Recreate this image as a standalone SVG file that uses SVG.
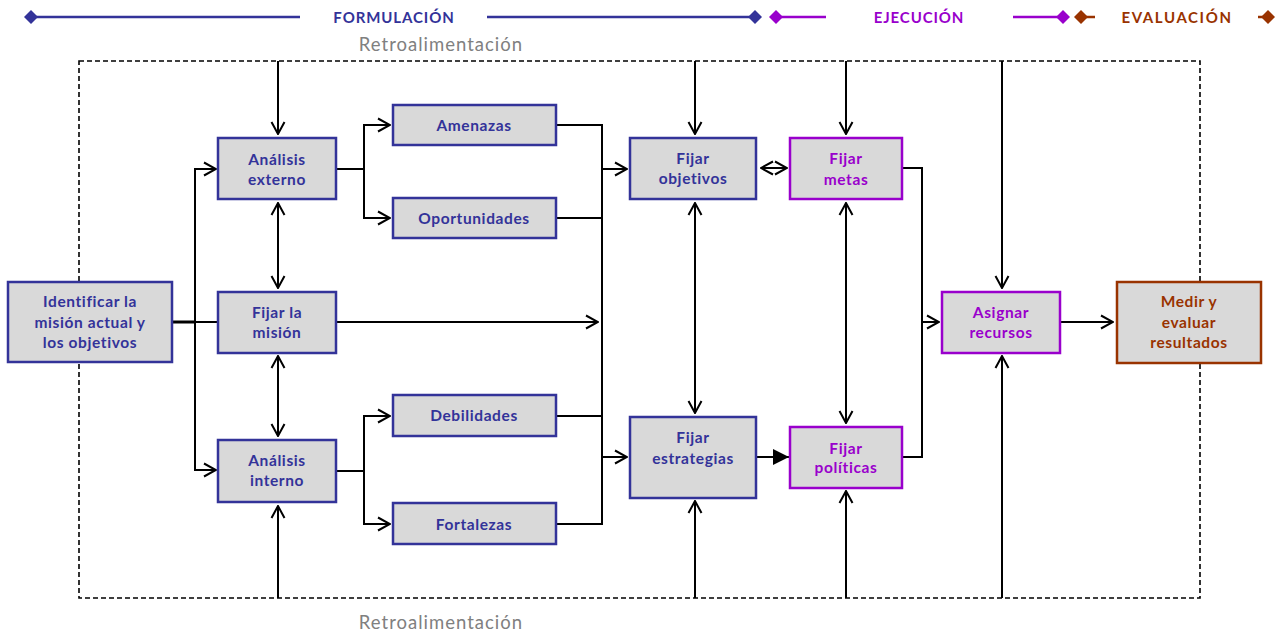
<svg xmlns="http://www.w3.org/2000/svg" width="1281" height="633" viewBox="0 0 1281 633">
  <style>
    .box { fill: #d9d9d9; stroke-width: 2.5; }
    .blue { stroke: #333399; }
    .purple { stroke: #9900cc; }
    .brown { stroke: #993300; }
    .lbl { font-family: Lato, "Liberation Sans", sans-serif; font-weight: bold; font-size: 15.5px; letter-spacing: 0.6px; text-anchor: middle; }
    .tb { fill: #333399; }
    .tp { fill: #9900cc; }
    .tr { fill: #993300; }
    .head { font-family: Lato, "Liberation Sans", sans-serif; font-weight: bold; font-size: 15px; letter-spacing: 0.9px; text-anchor: middle; }
    .fb { font-family: Lato, "Liberation Sans", sans-serif; font-size: 18.5px; letter-spacing: 1px; fill: #808080; text-anchor: middle; }
    .ln { fill: none; stroke: #000; stroke-width: 2; }
    .arr { marker-end: url(#open); }
    .bi { marker-start: url(#open); marker-end: url(#open); }
  </style>
  <defs>
    <marker id="open" viewBox="0 0 14 16" refX="13" refY="8" markerWidth="14" markerHeight="16" markerUnits="userSpaceOnUse" orient="auto-start-reverse">
      <path d="M1,1.5 L13,8 L1,14.5" fill="none" stroke="#000" stroke-width="2"/>
    </marker>
    <marker id="solid" viewBox="0 0 16 16" refX="16" refY="8" markerWidth="16" markerHeight="16" markerUnits="userSpaceOnUse" orient="auto">
      <path d="M0,0 L16,8 L0,16 Z" fill="#000"/>
    </marker>
  </defs>

  <!-- phase header -->
  <g id="header">
    <line x1="31" y1="17" x2="300" y2="17" stroke="#333399" stroke-width="2.5"/>
    <path d="M31,10 L38,17 L31,24 L24,17 Z" fill="#333399"/>
    <text class="head tb" x="394" y="23">FORMULACIÓN</text>
    <line x1="487" y1="17" x2="755" y2="17" stroke="#333399" stroke-width="2.5"/>
    <path d="M755,10 L762,17 L755,24 L748,17 Z" fill="#333399"/>
    <path d="M776,10 L783,17 L776,24 L769,17 Z" fill="#9900cc"/>
    <line x1="776" y1="17" x2="826" y2="17" stroke="#9900cc" stroke-width="2.5"/>
    <text class="head tp" x="919" y="23">EJECUCIÓN</text>
    <line x1="1013" y1="17" x2="1063" y2="17" stroke="#9900cc" stroke-width="2.5"/>
    <path d="M1063,10 L1070,17 L1063,24 L1056,17 Z" fill="#9900cc"/>
    <path d="M1081,10 L1088,17 L1081,24 L1074,17 Z" fill="#993300"/>
    <line x1="1081" y1="17" x2="1095" y2="17" stroke="#993300" stroke-width="2.5"/>
    <text class="head tr" x="1177" y="23" style="letter-spacing:1.6px">EVALUACIÓN</text>
    <line x1="1258" y1="17" x2="1268" y2="17" stroke="#993300" stroke-width="2.5"/>
    <path d="M1268,10 L1275,17 L1268,24 L1261,17 Z" fill="#993300"/>
  </g>

  <!-- feedback frame -->
  <g id="feedback">
    <rect x="79" y="61" width="1121" height="537" fill="none" stroke="#000" stroke-width="1.6" stroke-dasharray="5,3"/>
    <text class="fb" x="441" y="51">Retroalimentación</text>
    <text class="fb" x="441" y="629">Retroalimentación</text>
  </g>

  <!-- connectors -->
  <g id="connectors">
    <!-- mission fan-out -->
    <line x1="172" y1="322" x2="196" y2="322" stroke="#000" stroke-width="3"/>
    <path class="ln" d="M195,322 H218"/>
    <path class="ln arr" d="M195,322 V169 H216"/>
    <path class="ln arr" d="M195,322 V470 H216"/>
    <path class="ln arr" d="M336,322 H598"/>
    <!-- external analysis -->
    <path class="ln" d="M336,169 H364"/>
    <path class="ln arr" d="M364,169 V125 H390"/>
    <path class="ln arr" d="M364,169 V218 H390"/>
    <!-- internal analysis -->
    <path class="ln" d="M336,471 H364"/>
    <path class="ln arr" d="M364,471 V416 H390"/>
    <path class="ln arr" d="M364,471 V524 H390"/>
    <!-- SWOT collector -->
    <path class="ln" d="M556,125 H602 V524 H556"/>
    <path class="ln" d="M556,218 H602"/>
    <path class="ln" d="M556,416 H602"/>
    <path class="ln arr" d="M602,169 H627"/>
    <path class="ln arr" d="M602,457 H627"/>
    <!-- two-way links -->
    <path class="ln bi" d="M278,203 V288"/>
    <path class="ln bi" d="M278,356 V436"/>
    <path class="ln bi" d="M695,203 V413"/>
    <path class="ln bi" d="M846,203 V423"/>
    <path class="ln bi" d="M761,168 H787"/>
    <!-- strategies to policies -->
    <path class="ln" d="M756,457 H789" marker-end="url(#solid)"/>
    <!-- goals and policies to resources -->
    <path class="ln" d="M902,168 H922 V457 H902"/>
    <path class="ln arr" d="M922,322 H939"/>
    <path class="ln arr" d="M1060,322 H1113"/>
    <!-- feedback from top -->
    <path class="ln arr" d="M278,61 V134"/>
    <path class="ln arr" d="M695,61 V134"/>
    <path class="ln arr" d="M846,61 V134"/>
    <path class="ln arr" d="M1002,61 V288"/>
    <!-- feedback from bottom -->
    <path class="ln arr" d="M278,598 V506"/>
    <path class="ln arr" d="M695,598 V501"/>
    <path class="ln arr" d="M846,598 V491"/>
    <path class="ln arr" d="M1002,598 V356"/>
  </g>

  <!-- nodes -->
  <g id="identificar">
    <rect class="box blue" x="8" y="282" width="164" height="80"/>
    <text class="lbl tb" x="90" y="307">Identificar la</text>
    <text class="lbl tb" x="90" y="328">misión actual y</text>
    <text class="lbl tb" x="90" y="348">los objetivos</text>
  </g>
  <g id="analisis-externo">
    <rect class="box blue" x="218" y="138" width="118" height="61"/>
    <text class="lbl tb" x="277" y="165">Análisis</text>
    <text class="lbl tb" x="277" y="185">externo</text>
  </g>
  <g id="fijar-mision">
    <rect class="box blue" x="218" y="292" width="118" height="61"/>
    <text class="lbl tb" x="277" y="318">Fijar la</text>
    <text class="lbl tb" x="277" y="338">misión</text>
  </g>
  <g id="analisis-interno">
    <rect class="box blue" x="218" y="440" width="118" height="62"/>
    <text class="lbl tb" x="277" y="466">Análisis</text>
    <text class="lbl tb" x="277" y="486">interno</text>
  </g>
  <g id="amenazas">
    <rect class="box blue" x="393" y="105" width="163" height="40"/>
    <text class="lbl tb" x="474" y="131">Amenazas</text>
  </g>
  <g id="oportunidades">
    <rect class="box blue" x="393" y="198" width="163" height="40"/>
    <text class="lbl tb" x="474" y="224">Oportunidades</text>
  </g>
  <g id="debilidades">
    <rect class="box blue" x="393" y="395" width="163" height="41"/>
    <text class="lbl tb" x="474" y="421">Debilidades</text>
  </g>
  <g id="fortalezas">
    <rect class="box blue" x="393" y="503" width="163" height="41"/>
    <text class="lbl tb" x="474" y="530">Fortalezas</text>
  </g>
  <g id="fijar-objetivos">
    <rect class="box blue" x="630" y="138" width="126" height="61"/>
    <text class="lbl tb" x="693" y="164">Fijar</text>
    <text class="lbl tb" x="693" y="184">objetivos</text>
  </g>
  <g id="fijar-estrategias">
    <rect class="box blue" x="630" y="417" width="126" height="81"/>
    <text class="lbl tb" x="693" y="443">Fijar</text>
    <text class="lbl tb" x="693" y="464">estrategias</text>
  </g>
  <g id="fijar-metas">
    <rect class="box purple" x="790" y="138" width="112" height="61"/>
    <text class="lbl tp" x="846" y="164">Fijar</text>
    <text class="lbl tp" x="846" y="185">metas</text>
  </g>
  <g id="fijar-politicas">
    <rect class="box purple" x="790" y="427" width="112" height="61"/>
    <text class="lbl tp" x="846" y="454">Fijar</text>
    <text class="lbl tp" x="846" y="473">políticas</text>
  </g>
  <g id="asignar-recursos">
    <rect class="box purple" x="942" y="292" width="118" height="61"/>
    <text class="lbl tp" x="1001" y="318">Asignar</text>
    <text class="lbl tp" x="1001" y="338">recursos</text>
  </g>
  <g id="medir-evaluar">
    <rect class="box brown" x="1117" y="282" width="144" height="81"/>
    <text class="lbl tr" x="1189" y="307">Medir y</text>
    <text class="lbl tr" x="1189" y="328">evaluar</text>
    <text class="lbl tr" x="1189" y="348">resultados</text>
  </g>
</svg>
